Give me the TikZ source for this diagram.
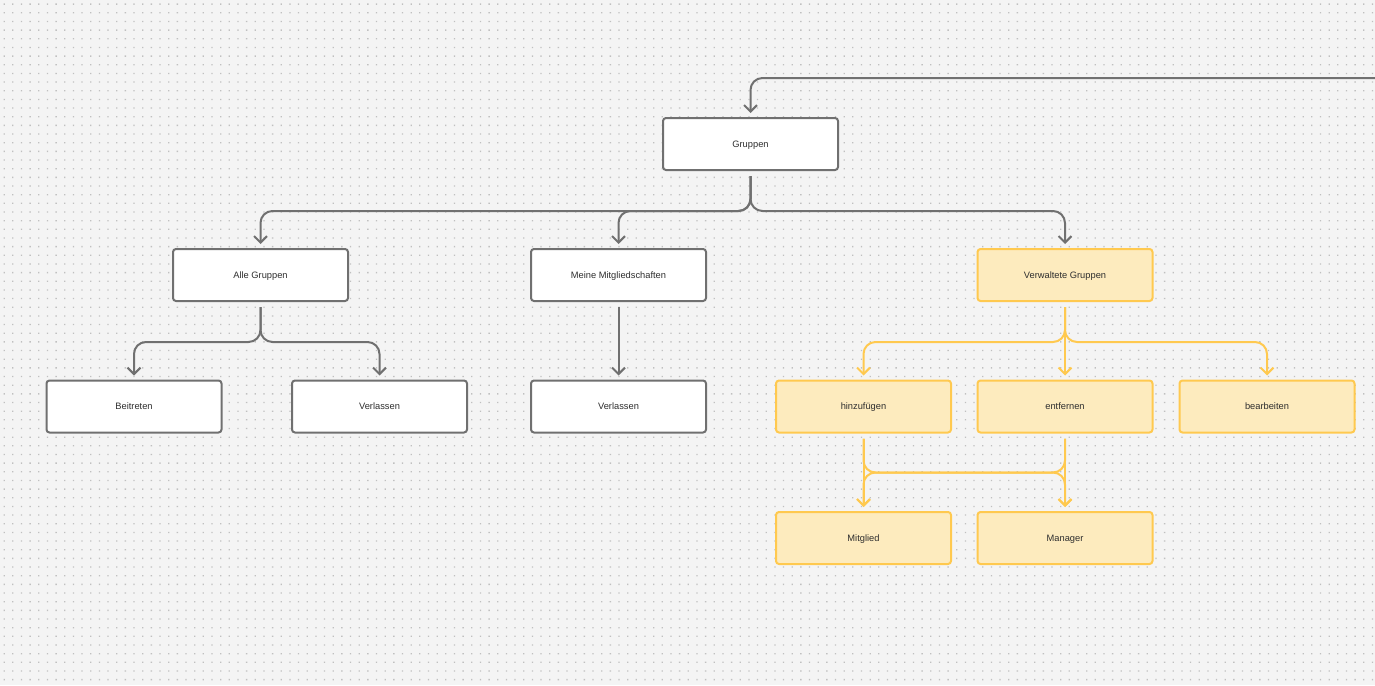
\documentclass[tikz,border=0pt]{standalone}
\usepackage{fontspec}
\setmainfont{Liberation Sans}
\usetikzlibrary{arrows.meta}
\definecolor{bg}{HTML}{F4F4F4}
\definecolor{dotc}{HTML}{C0C0C0}
\definecolor{gline}{HTML}{707070}
\definecolor{yline}{HTML}{FFC94F}
\definecolor{yfill}{HTML}{FDEBBE}
\definecolor{txt}{HTML}{2E2E2E}
\tikzset{
  box/.style={draw=gline, fill=white, line width=2pt, rounded corners=3pt,
    minimum width=175pt, minimum height=52pt, inner sep=0pt,
    text height=7.5pt, text depth=1.5pt,
    font=\fontsize{9.3pt}{11pt}\selectfont, text=txt},
  ybox/.style={box, draw=yline, fill=yfill},
  conn/.style={draw=gline, line width=2pt, rounded corners=12pt,
    -{Straight Barb[length=6.5pt,width=13pt,line width=2pt]}},
  yconn/.style={conn, draw=yline},
}
\begin{document}
\begin{tikzpicture}[x=1pt,y=-1pt]
\fill[bg] (0,0) rectangle (1375,685);
\useasboundingbox (0,0) rectangle (1375,685);
\foreach \i in {0,...,158}{
  \fill[dotc] \foreach \j in {0,...,78}{ ({3.5+8.66*\i},{3.5+8.66*\j}) rectangle ++(1.3,1.3) };
}
% nodes
\node[box] (gr) at (750.5,144) {Gruppen};
\node[box] (al) at (260.5,275) {Alle Gruppen};
\node[box] (mm) at (618.5,275) {Meine Mitgliedschaften};
\node[ybox] (vg) at (1065,275) {Verwaltete Gruppen};
\node[box] (be) at (134,406.5) {Beitreten};
\node[box] (v1) at (379.5,406.5) {Verlassen};
\node[box] (v2) at (618.5,406.5) {Verlassen};
\node[ybox] (hz) at (863.5,406.5) {hinzufügen};
\node[ybox] (en) at (1065,406.5) {entfernen};
\node[ybox] (bb) at (1267,406.5) {bearbeiten};
\node[ybox] (mg) at (863.5,538) {Mitglied};
\node[ybox] (ma) at (1065,538) {Manager};
\coordinate (in) at (1380,78);
% connectors
\draw[conn] (in) -| ([yshift=4pt]gr.north);
\foreach \t in {al,mm,vg}{
  \draw[conn] ([yshift=-5pt]gr.south) -- ++(0,35) -| ([yshift=4pt]\t.north);
}
\foreach \t in {be,v1}{
  \draw[conn] ([yshift=-5pt]al.south) -- ++(0,35) -| ([yshift=4pt]\t.north);
}
\draw[conn] ([yshift=-5pt]mm.south) -- ([yshift=4pt]v2.north);
\foreach \t in {hz,en,bb}{
  \draw[yconn] ([yshift=-5pt]vg.south) -- ++(0,35) -| ([yshift=4pt]\t.north);
}
\foreach \s in {hz,en}{
  \foreach \t in {mg,ma}{
    \draw[yconn] ([yshift=-5pt]\s.south) -- ++(0,34) -| ([yshift=4pt]\t.north);
  }
}
\end{tikzpicture}
\end{document}
